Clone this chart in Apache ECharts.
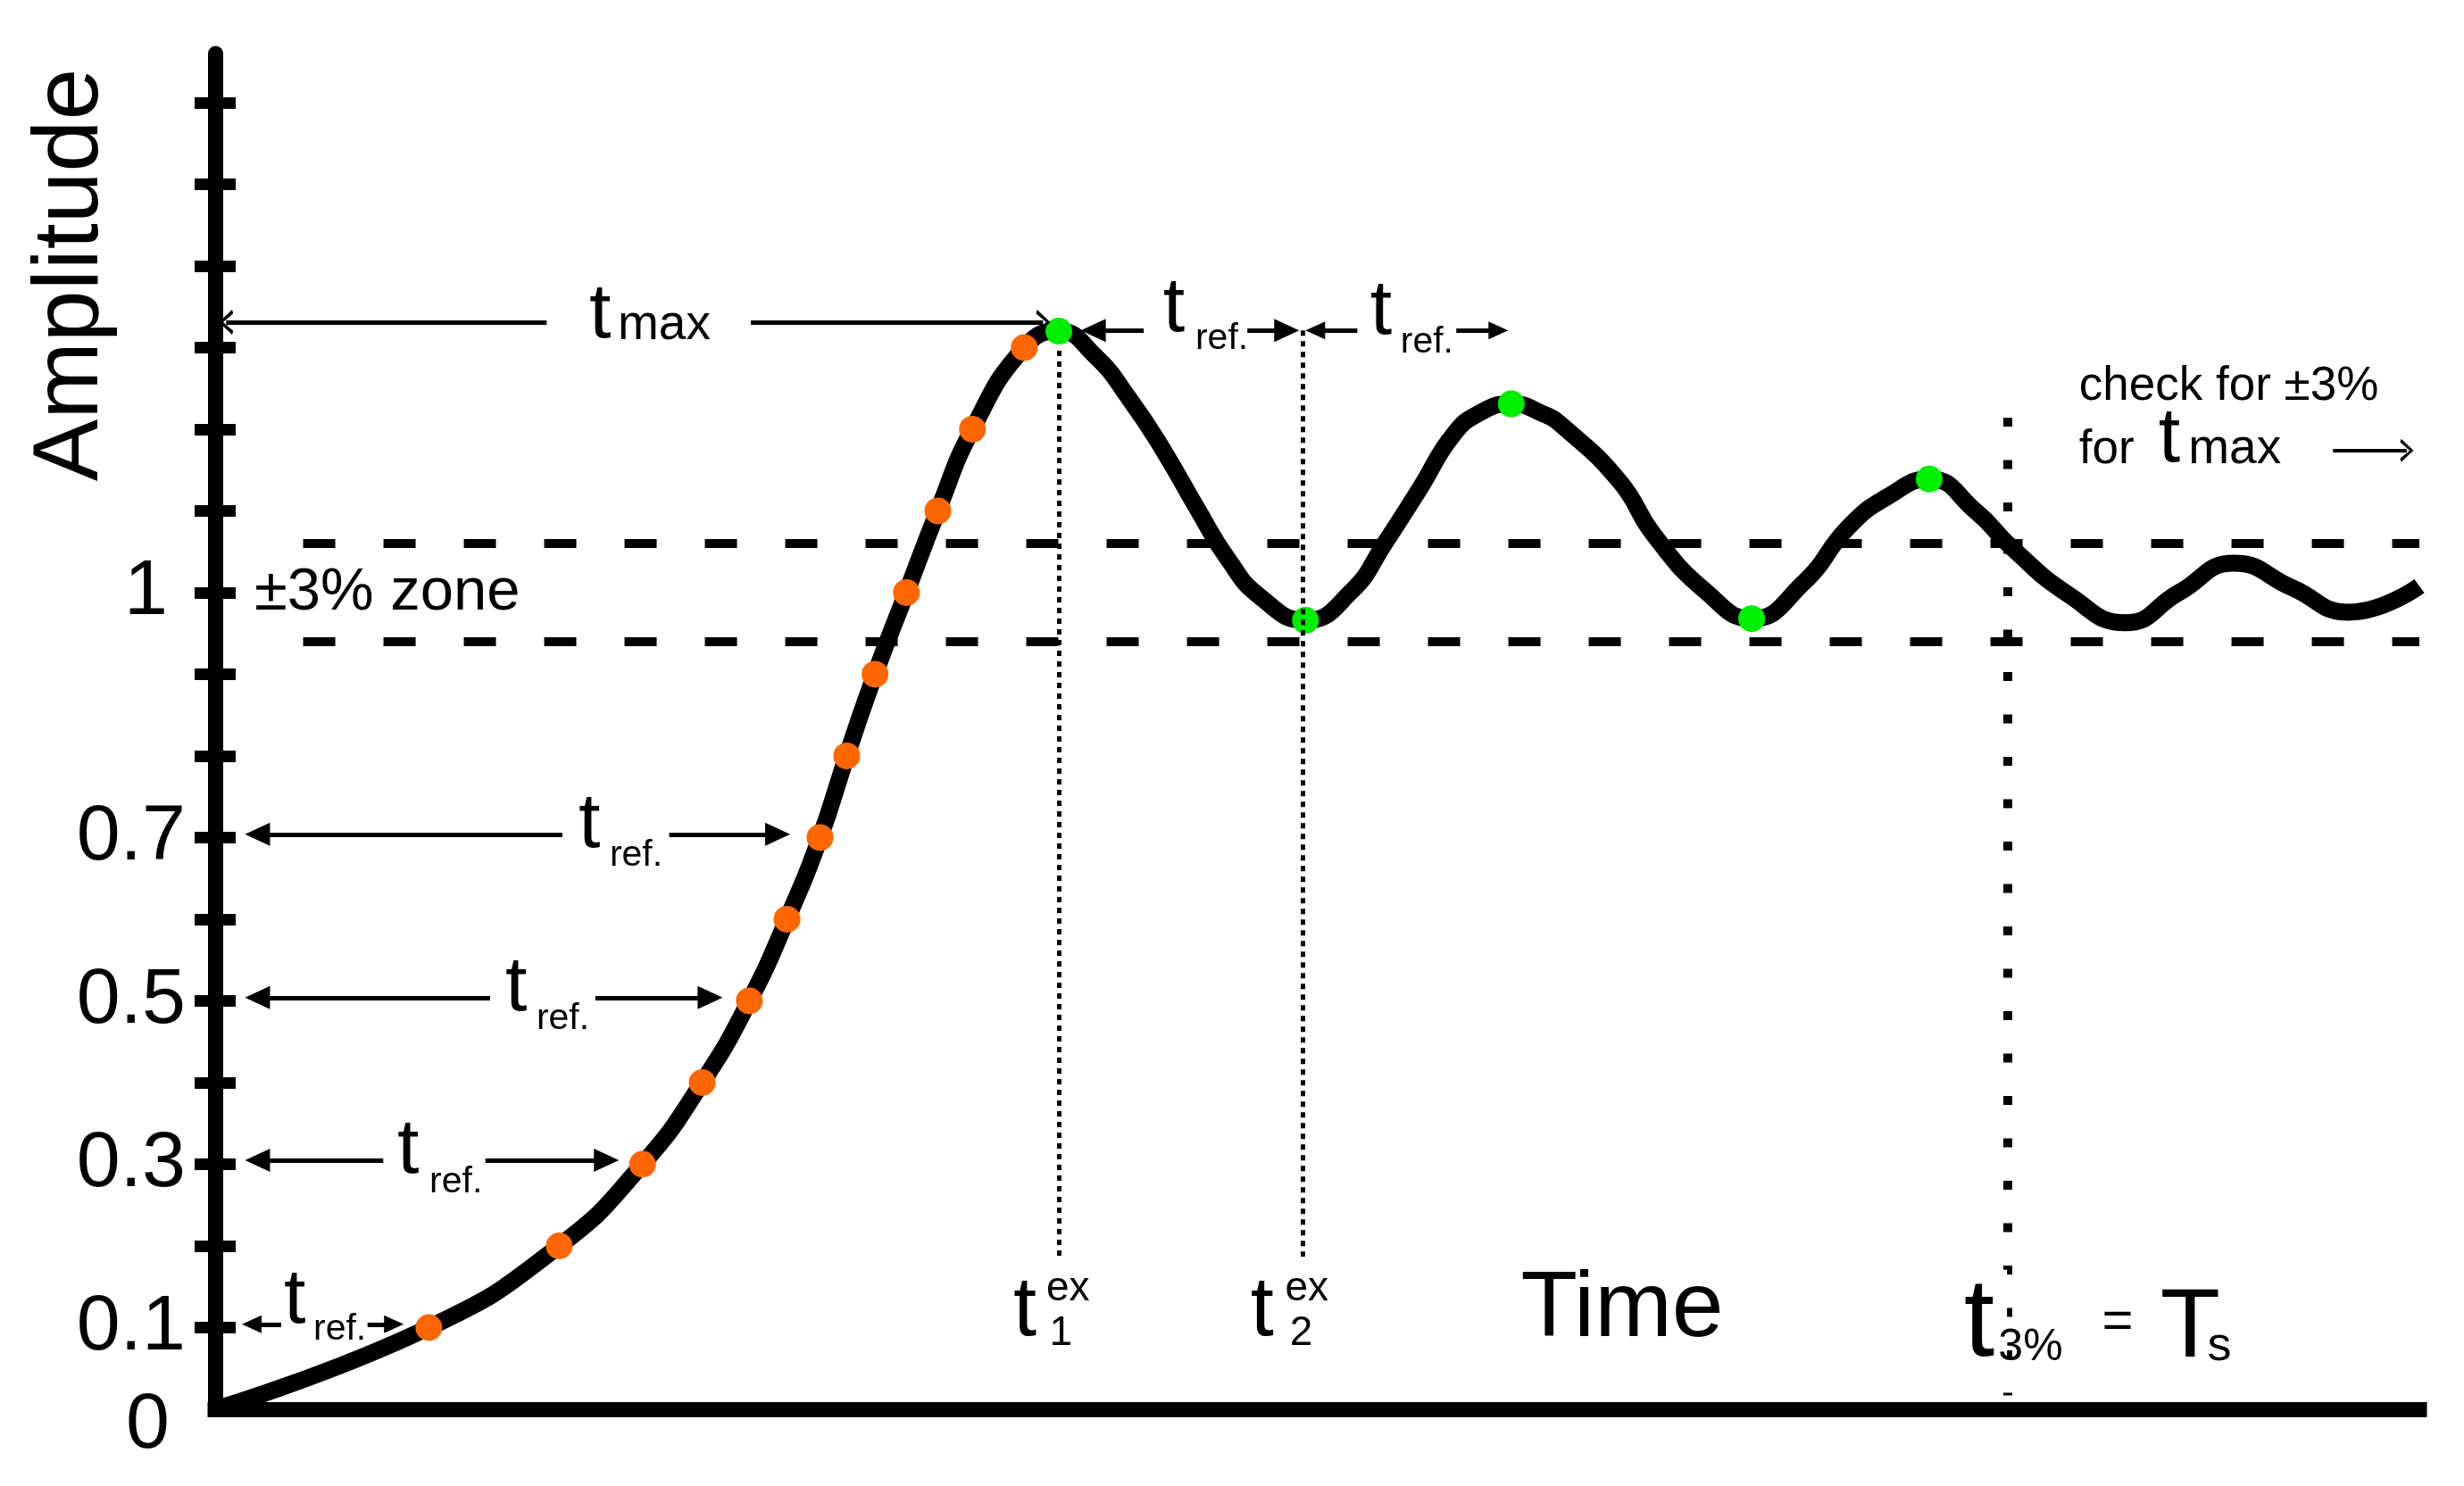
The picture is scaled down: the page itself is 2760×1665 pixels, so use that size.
<!DOCTYPE html>
<html>
<head>
<meta charset="utf-8">
<script src="https://cdn.jsdelivr.net/npm/echarts@6/dist/echarts.min.js"></script>
<style>
html, body { margin: 0; padding: 0; background: #fff; }
#chart { width: 2760px; height: 1665px; }
</style>
</head>
<body>
<div id="chart"></div>
<script>
// step response, time in arbitrary units, amplitude normalised to 1
var curveT = [0, 1.36, 2.19, 2.72, 3.10, 3.40, 3.64, 3.85, 4.02, 4.20, 4.40, 4.60, 4.82, 5.15, 5.37,
              5.60, 5.82, 6.03, 6.25, 6.45, 6.65, 6.94, 7.23, 7.45, 7.67, 7.88, 8.05, 8.25, 8.45,
              8.57, 8.94, 9.16, 9.49, 9.78, 10.11, 10.40, 10.65, 10.91, 11.21, 11.43, 11.80, 12.16,
              12.50, 12.85, 13.22, 13.58, 14.03];
var curveV = [0, 0.10, 0.20, 0.30, 0.40, 0.50, 0.60, 0.70, 0.80, 0.90, 1.00, 1.10, 1.20, 1.30, 1.32,
              1.29, 1.237, 1.176, 1.103, 1.040, 0.995, 0.966, 1.001, 1.062, 1.128, 1.193, 1.220, 1.231, 1.219,
              1.205, 1.136, 1.07, 1.001, 0.968, 1.012, 1.081, 1.118, 1.139, 1.099, 1.056, 0.997, 0.963,
              1.000, 1.036, 1.006, 0.976, 1.008];

// orange reference points (every 0.1 of amplitude)
var refDotT = [1.36, 2.19, 2.72, 3.10, 3.40, 3.64, 3.85, 4.02, 4.20, 4.40, 4.60, 4.82, 5.15];
var refDotV = [0.1, 0.2, 0.3, 0.4, 0.5, 0.6, 0.7, 0.8, 0.9, 1.0, 1.1, 1.2, 1.3];

// green extrema
var extremaT = [5.37, 6.94, 8.25, 9.78, 10.91];
var extremaV = [1.32, 0.966, 1.231, 0.968, 1.139];

var zoneLevels = [0.94, 1.06];
var zoneStartT = 0.56;
var tEnd = 14.03;
var vEnd = 1.66;

var yTickValues = [0.1, 0.2, 0.3, 0.4, 0.5, 0.6, 0.7, 0.8, 0.9, 1.0, 1.1, 1.2, 1.3, 1.4, 1.5, 1.6];
var yLabelValues = [0, 0.1, 0.3, 0.5, 0.7, 1];

// dotted verticals: [t, vTop, vBottom]
var exLines = [[5.37, 1.296, 0.187], [6.92, 1.321, 0.187]];
var settleLine = [11.41, 1.214, 0.017];

// t_ref arrows with a gap for the label: [v, leftTip, gapStart, gapEnd, rightTip]
var trefArrows = [
    [0.104, 0.17, 0.42, 0.97, 1.20],
    [0.305, 0.19, 1.07, 1.72, 2.57],
    [0.504, 0.19, 1.75, 2.42, 3.23],
    [0.704, 0.19, 2.21, 2.89, 3.66],
    [1.321, 5.51, 5.91, 6.57, 6.90],
    [1.321, 6.94, 7.27, 7.90, 8.23]
];
var tmaxArrow = [1.331, 0.07, 2.11, 3.41, 5.27];
var checkArrow = [1.174, 13.48, 13.95];

// text pieces: [text, t, v at baseline, kind]
var notes = [
    ['Amplitude', -0.915, 1.389, 'amp'],
    ['t', 2.381, 1.306, 'tA'], ['max', 2.563, 1.306, 'sub'],
    ['t', 6.034, 1.313, 'tA'], ['ref.', 6.239, 1.295, 'ref'],
    ['t', 7.352, 1.310, 'tA'], ['ref.', 7.545, 1.291, 'ref'],
    ['t', 2.313, 0.682, 'tA'], ['ref.', 2.511, 0.662, 'ref'],
    ['t', 1.847, 0.482, 'tA'], ['ref.', 2.045, 0.462, 'ref'],
    ['t', 1.159, 0.283, 'tA'], ['ref.', 1.364, 0.262, 'ref'],
    ['t', 0.4375, 0.0995, 'tA'], ['ref.', 0.625, 0.082, 'ref'],
    ['±3% zone', 0.25, 0.974, 'zone'],
    ['check for ±3%', 11.864, 1.232, 'note'],
    ['for', 11.864, 1.154, 'note'], ['t', 12.37, 1.154, 'tA'], ['max', 12.56, 1.154, 'sub'],
    ['t', 5.08, 0.083, 'tEx'], ['ex', 5.29, 0.130, 'small'], ['1', 5.31, 0.075, 'small'],
    ['t', 6.59, 0.083, 'tEx'], ['ex', 6.81, 0.130, 'small'], ['2', 6.84, 0.075, 'small'],
    ['Time', 8.31, 0.081, 'time'],
    ['t', 11.13, 0.056, 'tBg'], ['3%', 11.35, 0.056, 'pct'], ['=', 12.01, 0.083, 'eq'],
    ['T', 12.38, 0.056, 'tBig'], ['s', 12.68, 0.056, 'sSub']
];

var SANS = "'Liberation Sans', Arial, sans-serif";

var noteStyles = {
    amp:   { fontSize: 104, rotate: 90, align: 'center', noBase: true },
    tA:    { fontSize: 88 },
    tEx:   { fontSize: 94 },
    tBig:  { fontSize: 110 },
    tBg:   { fontSize: 124, backgroundColor: '#fff', padding: [0, 14, 0, 0] },
    sub:   { fontSize: 55 },
    pct:   { fontSize: 50 },
    sSub:  { fontSize: 54 },
    ref:   { fontSize: 41 },
    small: { fontSize: 46 },
    note:  { fontSize: 53 },
    zone:  { fontSize: 67 },
    time:  { fontSize: 104 },
    eq:    { fontSize: 60 }
};

var CHEVRON = 'path://M0,16 L10,0 L20,16 L17,17.5 L10,5 L3,17.5 Z';
var pxPerT = 176; // pulls the triangle heads back so their tips sit on the read point

function pt(t, v, sym, size) {
    var p = { coord: [t, v], symbol: sym || 'none' };
    if (size) p.symbolSize = size;
    return p;
}
function seg(a, b, style) {
    a.lineStyle = style;
    return [a, b];
}

var solid = { width: 5, color: '#000', type: 'solid' };
var guideLines = [];
zoneLevels.forEach(function (v) {
    guideLines.push(seg(pt(zoneStartT, v), pt(tEnd, v), { type: [36, 54], width: 10, color: '#000' }));
});
exLines.forEach(function (l) {
    guideLines.push(seg(pt(l[0], l[1]), pt(l[0], l[2]), { type: [6, 6], width: 5, color: '#000' }));
});
guideLines.push(seg(pt(settleLine[0], settleLine[1]), pt(settleLine[0], settleLine[2]),
    { type: [10, 37.5], width: 10, color: '#000' }));

trefArrows.forEach(function (a) {
    var small = (a[2] - a[1]) < 0.4;
    var size = small ? [20, 22] : [26, 28];
    var back = size[1] / 2 / pxPerT;
    guideLines.push(seg(pt(a[1] + back, a[0], 'triangle', size), pt(a[2], a[0]), solid));
    guideLines.push(seg(pt(a[3], a[0]), pt(a[4] - back, a[0], 'triangle', size), solid));
});
guideLines.push(seg(pt(tmaxArrow[1], tmaxArrow[0], CHEVRON, [28, 16]), pt(tmaxArrow[2], tmaxArrow[0]), solid));
guideLines.push(seg(pt(tmaxArrow[3], tmaxArrow[0]), pt(tmaxArrow[4], tmaxArrow[0], CHEVRON, [28, 16]), solid));
guideLines.push(seg(pt(checkArrow[1], checkArrow[0]), pt(checkArrow[2], checkArrow[0], CHEVRON, [26, 15]),
    { width: 4, color: '#000', type: 'solid' }));

var curveData = curveT.map(function (t, i) { return [t, curveV[i]]; });
var refData = refDotT.map(function (t, i) { return [t, refDotV[i]]; });
var extData = extremaT.map(function (t, i) { return [t, extremaV[i]]; });

var noteData = notes.map(function (n) {
    var s = noteStyles[n[3]];
    var lab = {
        show: true,
        formatter: n[0],
        position: 'inside',
        align: s.align || 'left',
        verticalAlign: 'middle',
        fontFamily: SANS,
        fontSize: s.fontSize,
        color: '#000',
        opacity: 1,
        textBorderWidth: 0,
        textShadowBlur: 0,
        rotate: s.rotate || 0,
        offset: [0, s.noBase ? 0 : -0.347 * s.fontSize]
    };
    if (s.backgroundColor) {
        lab.backgroundColor = s.backgroundColor;
        lab.padding = s.padding;
    }
    return { value: [n[1], n[2]], label: lab };
});

var chart = echarts.init(document.getElementById('chart'));
chart.setOption({
    animation: false,
    backgroundColor: '#fff',
    grid: { left: 241, right: 50, top: 60, bottom: 86 },
    xAxis: {
        type: 'value', min: 0, max: tEnd,
        axisLine: { lineStyle: { color: '#000', width: 17, cap: 'square' } },
        axisTick: { show: false },
        axisLabel: { show: false },
        splitLine: { show: false }
    },
    yAxis: [
        {
            type: 'value', min: 0, max: vEnd, interval: 0.1,
            axisLine: { show: true, lineStyle: { color: '#000', width: 17 } },
            axisTick: { show: true, customValues: yTickValues, length: 23, lineStyle: { color: '#000', width: 13 } },
            axisLabel: {
                customValues: yLabelValues,
                margin: 33,
                color: '#000',
                fontFamily: SANS,
                fontSize: 88,
                formatter: function (val) {
                    if (Math.abs(val) < 1e-6) return '{z|0}';
                    if (Math.abs(val - 1) < 1e-6) return '{o|1}';
                    return String(Math.round(val * 10) / 10);
                },
                rich: {
                    z: { fontFamily: SANS, fontSize: 88, color: '#000', padding: [38, 18, 0, 0] },
                    o: { fontFamily: SANS, fontSize: 88, color: '#000', padding: [0, 20, 0, 0] }
                }
            },
            splitLine: { show: false }
        },
        {
            type: 'value', min: 0, max: vEnd, interval: 0.1, position: 'left', offset: 0,
            axisLine: { show: false },
            axisTick: { show: true, inside: true, customValues: yTickValues, length: 23, lineStyle: { color: '#000', width: 13 } },
            axisLabel: { show: false },
            splitLine: { show: false }
        }
    ],
    series: [
        {
            name: 'guides',
            type: 'line',
            data: [],
            z: 2,
            markLine: {
                silent: true,
                animation: false,
                symbol: 'none',
                label: { show: false },
                emphasis: { disabled: true },
                lineStyle: { color: '#000', width: 5, type: 'solid' },
                data: guideLines
            }
        },
        {
            name: 'response',
            type: 'line',
            data: curveData,
            smooth: 0.5,
            showSymbol: false,
            z: 3,
            lineStyle: { color: '#000', width: 19 }
        },
        {
            name: 'reference',
            type: 'scatter',
            data: refData,
            symbolSize: 30,
            z: 4,
            itemStyle: { color: '#ff6600', opacity: 1 }
        },
        {
            name: 'extrema',
            type: 'scatter',
            data: extData,
            symbolSize: 30,
            z: 4,
            itemStyle: { color: '#00ee00', opacity: 1 }
        },
        {
            name: 'notes',
            type: 'scatter',
            data: noteData,
            symbolSize: 0,
            clip: false,
            silent: true,
            z: 6,
            itemStyle: { color: 'rgba(0,0,0,0)', opacity: 1 }
        }
    ]
});
</script>
</body>
</html>
